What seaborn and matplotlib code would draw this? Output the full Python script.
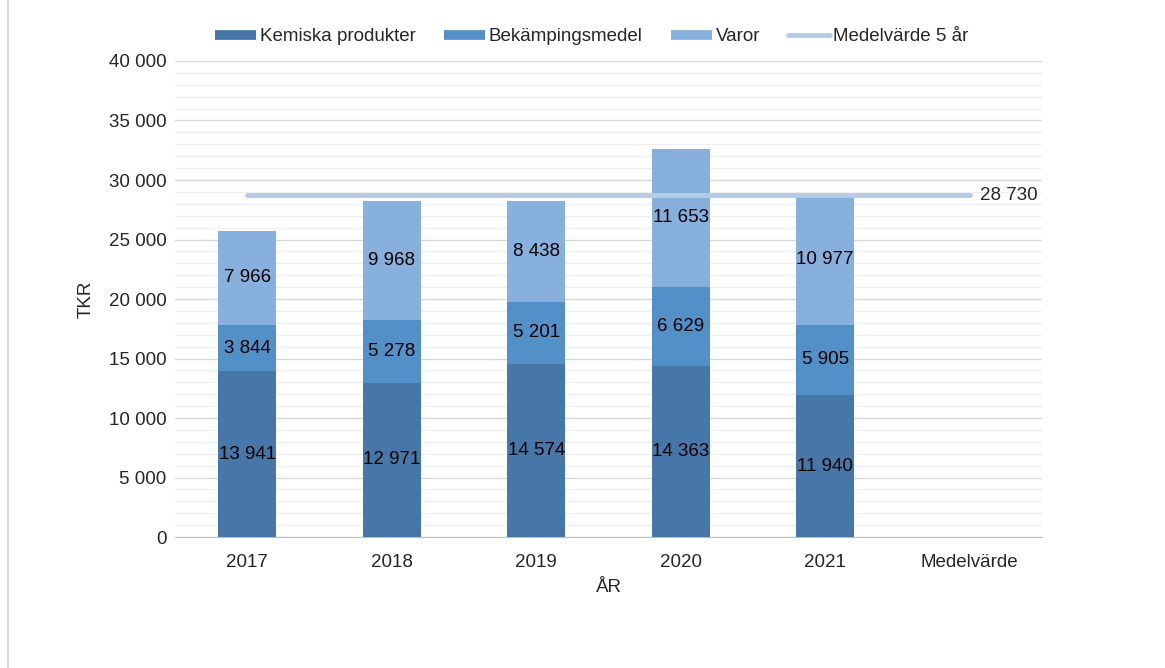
import numpy as np
import pandas as pd
import seaborn as sns
import matplotlib.pyplot as plt
from matplotlib.ticker import MultipleLocator, FuncFormatter
from matplotlib.lines import Line2D

# data
ar = ['2017', '2018', '2019', '2020', '2021']
kemiska = [13941, 12971, 14574, 14363, 11940]
bekampning = [3844, 5278, 5201, 6629, 5905]
varor = [7966, 9968, 8438, 11653, 10977]
kategorier = ar + ['Medelvärde']

farger = ['#4677A8', '#5490C8', '#87B0DD']
linjefarg = '#B4CCE8'

df = pd.DataFrame({'ar': ar, 'Kemiska produkter': kemiska,
                   'Bekämpingsmedel': bekampning, 'Varor': varor})
totalt = df[['Kemiska produkter', 'Bekämpingsmedel', 'Varor']].sum(axis=1)
medel = totalt.mean()

def fmt(v):
    return f'{v:,.0f}'.replace(',', ' ')

sns.set_style('white')
plt.rcParams['font.family'] = ['Liberation Sans', 'DejaVu Sans']
fs = 13.5

fig = plt.figure(figsize=(11.65, 6.68), dpi=100)
ax = fig.add_axes([0.1502, 0.196, 0.7442, 0.7127])

bottom = np.zeros(len(ar))
serier = ['Kemiska produkter', 'Bekämpingsmedel', 'Varor']
for namn, farg in zip(serier, farger):
    sns.barplot(data=df, x='ar', y=namn, order=kategorier, color=farg,
                saturation=1, bottom=bottom, width=0.4, linewidth=0,
                edgecolor='none', ax=ax, zorder=3)
    for i, v in enumerate(df[namn]):
        ax.text(i, bottom[i] + v / 2, fmt(v), ha='center', va='center',
                fontsize=fs, color='black', zorder=5)
    bottom = bottom + df[namn].values

# medelvärde-linje
ax.plot([0, len(ar)], [medel, medel], color=linjefarg, lw=3.5,
        solid_capstyle='round', zorder=4)
ax.text(len(ar) + 0.07, medel, fmt(medel), ha='left', va='center', fontsize=fs)

ax.set_xlim(-0.5, len(kategorier) - 0.5)
ax.set_ylim(0, 40000)
ax.yaxis.set_major_locator(MultipleLocator(5000))
ax.yaxis.set_minor_locator(MultipleLocator(1000))
ax.yaxis.set_major_formatter(FuncFormatter(lambda v, p: fmt(v)))
ax.grid(axis='y', which='major', color='#D9D9D9', lw=1, zorder=0)
ax.grid(axis='y', which='minor', color='#EFEFEF', lw=1, zorder=0)
ax.grid(axis='x', visible=False)
ax.set_axisbelow(True)

ax.set_xticks(range(len(kategorier)))
ax.set_xticklabels(kategorier)
ax.set_xticks(np.arange(-0.5, len(kategorier), 1), minor=True)
ax.tick_params(axis='x', which='major', length=0, labelsize=fs, pad=12)
ax.tick_params(axis='x', which='minor', length=5, color='#BFBFBF', width=1)
ax.tick_params(axis='y', which='both', length=0, labelsize=fs, pad=6)

for s in ['top', 'right', 'left']:
    ax.spines[s].set_visible(False)
ax.spines['bottom'].set_color('#BFBFBF')

ax.set_xlabel('ÅR', fontsize=fs, labelpad=6)
ax.set_ylabel('TKR', fontsize=fs, labelpad=10)

handles = [Line2D([0], [0], color=f, lw=7, solid_capstyle='butt') for f in farger]
handles.append(Line2D([0], [0], color=linjefarg, lw=3.5, solid_capstyle='round'))
fig.legend(handles, serier + ['Medelvärde 5 år'], loc='center',
           bbox_to_anchor=(0.508, 0.945), ncol=4, frameon=False, fontsize=fs,
           handlelength=2.2, handletextpad=0.2, columnspacing=1.5)

# ram till vänster
fig.add_artist(Line2D([0.0065, 0.0065], [0, 1], color='#D9D9D9', lw=1.5,
                      transform=fig.transFigure))

plt.savefig('out.png', dpi=100)
